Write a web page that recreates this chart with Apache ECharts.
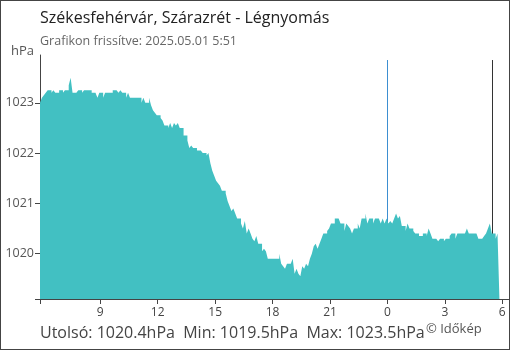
<!DOCTYPE html>
<html>
<head>
<meta charset="utf-8">
<script src="https://cdn.jsdelivr.net/npm/echarts@6/dist/echarts.min.js"></script>
<style>
    html, body { margin: 0; padding: 0; background: #fff; }
    #chart {
        width: 510px;
        height: 350px;
        box-sizing: border-box;
        border: 1px solid #444;
    }
</style>
</head>
<body>
<div id="chart"></div>
<script>
// idopontok: 2025.04.30 5:51-tol 6 percenkent
const startTime = Date.UTC(2025, 3, 30, 5, 51)
const stepMs = 6 * 60 * 1000

// legnyomas (hPa), soronkent egy ora
const pressure = [
    1023.0, 1023.1, 1023.15, 1023.2, 1023.25, 1023.25, 1023.2, 1023.25, 1023.2, 1023.2,
    1023.25, 1023.25, 1023.2, 1023.25, 1023.25, 1023.35, 1023.5, 1023.2, 1023.2, 1023.2,
    1023.25, 1023.25, 1023.2, 1023.25, 1023.25, 1023.25, 1023.25, 1023.2, 1023.2, 1023.2,
    1023.1, 1023.2, 1023.2, 1023.1, 1023.2, 1023.2, 1023.2, 1023.2, 1023.25, 1023.25,
    1023.25, 1023.2, 1023.25, 1023.2, 1023.2, 1023.1, 1023.2, 1023.1, 1023.1, 1023.1,
    1023.1, 1023.1, 1023.1, 1023.0, 1023.1, 1023.0, 1023.0, 1023.1, 1022.95, 1022.85,
    1022.8, 1022.75, 1022.75, 1022.7, 1022.65, 1022.55, 1022.55, 1022.5, 1022.6, 1022.5,
    1022.6, 1022.55, 1022.6, 1022.5, 1022.5, 1022.35, 1022.35, 1022.25, 1022.1, 1022.15,
    1022.1, 1022.1, 1022.05, 1022.05, 1022.05, 1022.0, 1022.0, 1021.95, 1022.0, 1021.8,
    1021.65, 1021.55, 1021.45, 1021.4, 1021.35, 1021.25, 1021.25, 1021.2, 1021.05, 1020.95,
    1020.85, 1020.9, 1020.8, 1020.7, 1020.7, 1020.6, 1020.5, 1020.65, 1020.4, 1020.5,
    1020.4, 1020.3, 1020.25, 1020.35, 1020.2, 1020.2, 1020.05, 1020.1, 1020.05, 1019.9,
    1019.9, 1019.9, 1019.9, 1019.9, 1019.9, 1020.0, 1019.8, 1019.75, 1019.7, 1019.8,
    1019.8, 1019.8, 1019.9, 1019.6, 1019.7, 1019.6, 1019.55, 1019.75, 1019.7, 1019.8,
    1019.75, 1019.9, 1020.0, 1020.15, 1020.2, 1020.1, 1020.2, 1020.3, 1020.4, 1020.4,
    1020.45, 1020.5, 1020.6, 1020.6, 1020.7, 1020.7, 1020.7, 1020.6, 1020.6, 1020.45,
    1020.6, 1020.55, 1020.5, 1020.4, 1020.5, 1020.5, 1020.6, 1020.5, 1020.7, 1020.7,
    1020.8, 1020.6, 1020.7, 1020.7, 1020.6, 1020.7, 1020.7, 1020.7, 1020.6, 1020.7,
    1020.6, 1020.7, 1020.6, 1020.65, 1020.6, 1020.7, 1020.8, 1020.7, 1020.75, 1020.55,
    1020.55, 1020.45, 1020.6, 1020.5, 1020.5, 1020.45, 1020.4, 1020.4, 1020.35, 1020.35,
    1020.4, 1020.4, 1020.35, 1020.5, 1020.4, 1020.3, 1020.3, 1020.3, 1020.25, 1020.3,
    1020.3, 1020.25, 1020.3, 1020.3, 1020.35, 1020.4, 1020.4, 1020.3, 1020.4, 1020.4,
    1020.4, 1020.4, 1020.4, 1020.5, 1020.4, 1020.4, 1020.4, 1020.4, 1020.4, 1020.3,
    1020.3, 1020.3, 1020.35, 1020.4, 1020.5, 1020.6, 1020.4, 1020.4, 1020.3, 1020.4,
    1020.4
]

const xMin = startTime
const xMax = Date.UTC(2025, 4, 1, 6, 21)
const xTickHours = [
    Date.UTC(2025, 3, 30, 9), Date.UTC(2025, 3, 30, 12), Date.UTC(2025, 3, 30, 15),
    Date.UTC(2025, 3, 30, 18), Date.UTC(2025, 3, 30, 21), Date.UTC(2025, 4, 1, 0),
    Date.UTC(2025, 4, 1, 3), Date.UTC(2025, 4, 1, 6)
]
const midnight = Date.UTC(2025, 4, 1, 0)
const sunrise = Date.UTC(2025, 4, 1, 5, 28)

const yMin = 1019.1
const yMax = 1023.95
const yTickValues = [1020, 1021, 1022, 1023]

const titleText = 'Székesfehérvár, Szárazrét - Légnyomás'
const subText = 'Grafikon frissítve: 2025.05.01 5:51'
const statsText = 'Utolsó: 1020.4hPa  Min: 1019.5hPa  Max: 1023.5hPa'

const font = "'Open Sans', 'Noto Sans', sans-serif"
const seriesData = pressure.map((v, i) => [startTime + i * stepMs, v])

const chart = echarts.init(document.getElementById('chart'), null, { renderer: 'canvas' })

chart.setOption({
    animation: false,
    textStyle: { fontFamily: font },
    title: [
        {
            text: titleText,
            left: 39,
            top: 9,
            padding: 0,
            textStyle: { fontSize: 16, fontWeight: 'normal', color: '#222', fontFamily: font }
        },
        {
            text: subText,
            left: 39,
            top: 34,
            padding: 0,
            textStyle: { fontSize: 12.5, fontWeight: 'normal', color: '#666', fontFamily: font }
        },
        {
            text: statsText,
            left: 39,
            top: 324,
            padding: 0,
            textStyle: { fontSize: 16, fontWeight: 'normal', color: '#444', fontFamily: font }
        }
    ],
    graphic: [
        {
            type: 'text',
            left: 425,
            top: 322,
            style: { text: '© Időkép', fontSize: 13, fill: '#555', fontFamily: font }
        }
    ],
    grid: { left: 39, right: 0, top: 54, bottom: 50 },
    xAxis: {
        type: 'value',
        min: xMin,
        max: xMax,
        axisLine: { lineStyle: { color: '#444', width: 1 } },
        axisTick: { customValues: [xMin].concat(xTickHours), length: 5, lineStyle: { color: '#444' } },
        axisLabel: {
            customValues: xTickHours,
            color: '#444',
            fontSize: 12,
            margin: 8,
            formatter: v => String(new Date(v).getUTCHours())
        },
        splitLine: { show: false }
    },
    yAxis: {
        type: 'value',
        min: yMin,
        max: yMax,
        name: 'hPa',
        nameLocation: 'end',
        nameGap: -3,
        nameTextStyle: { color: '#555', fontSize: 13, align: 'right', padding: [0, 6, 0, 0] },
        axisLine: { show: true, lineStyle: { color: '#444', width: 1 } },
        axisTick: { show: true, customValues: [yMin].concat(yTickValues), length: 5, lineStyle: { color: '#444' } },
        axisLabel: {
            customValues: yTickValues,
            color: '#555',
            fontSize: 12.5,
            margin: 6,
            formatter: v => String(v)
        },
        splitLine: { show: false }
    },
    series: [
        {
            // jelolo vonalak (ejfel, napkelte) a kitoltes mogott
            type: 'line',
            z: 1,
            data: [],
            markLine: {
                z: 1,
                silent: true,
                symbol: ['none', 'none'],
                label: { show: false },
                data: [
                    [
                        { coord: [midnight, 1023.85], lineStyle: { color: '#3d8fd1', width: 1, type: 'solid' } },
                        { coord: [midnight, yMin] }
                    ],
                    [
                        { coord: [sunrise, 1023.85], lineStyle: { color: '#333', width: 1, type: 'solid' } },
                        { coord: [sunrise, yMin] }
                    ]
                ]
            }
        },
        {
            name: 'Légnyomás',
            type: 'line',
            z: 2,
            step: 'end',
            showSymbol: false,
            symbol: 'none',
            data: seriesData,
            lineStyle: { width: 0, opacity: 0, color: '#42c0c2' },
            areaStyle: { color: '#42c0c2', opacity: 1, origin: 'start' }
        }
    ]
})
</script>
</body>
</html>
